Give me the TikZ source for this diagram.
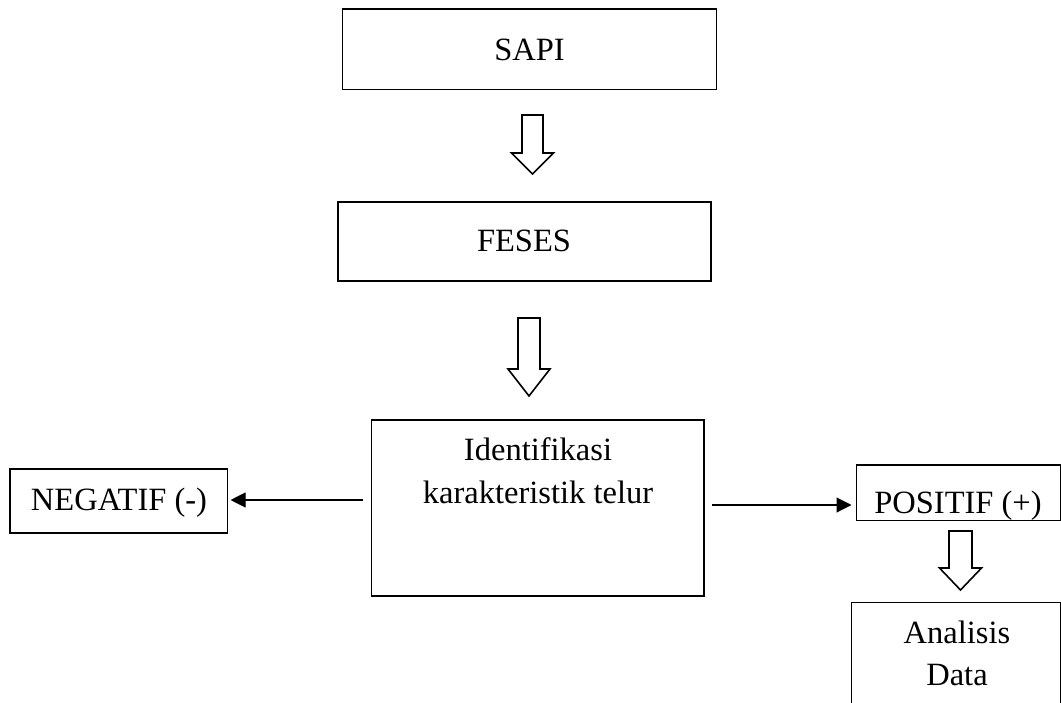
\documentclass[tikz,border=0pt]{standalone}
\usepackage{fontspec}
\setmainfont{Liberation Serif}
\usetikzlibrary{arrows.meta}
\tikzset{
  box/.style={draw=black, line width=1.1pt, rectangle, inner sep=0pt, minimum width=#1},
  lbl/.style={anchor=base, inner sep=0pt, font=\fontsize{32.5}{43}\selectfont},
  conn/.style={draw=black, line width=1.1pt, -{Triangle[length=15pt,width=15pt]}},
  blockarrow/.style={draw=black, line width=1.6pt, line join=miter, fill=white},
}
\newcommand{\downblock}[5]{% cx, top, headtop, tip, shaft half width
  \draw[blockarrow] (#1-#5,#2) -- (#1+#5,#2) -- (#1+#5,#3) -- (#1+21,#3) -- (#1,#4)
    -- (#1-21,#3) -- (#1-#5,#3) -- cycle;}
\begin{document}
\begin{tikzpicture}[x=1pt,y=-1pt]
\clip (0,0) rectangle (1061,702);
\fill[white] (0,0) rectangle (1061,702);

% boxes
\node[box=374pt, minimum height=80.5pt] (sapi) at (529.5,49.25) {};
\node[box=373pt, minimum height=79pt] (feses) at (524.5,241.5) {};
\node[box=332.5pt, minimum height=176pt] (ident) at (537.75,508) {};
\node[box=217.5pt, minimum height=64pt] (neg) at (118.75,501) {};
\node[box=204.3pt, minimum height=55.7pt] (pos) at (958.2,492.85) {};
\node[box=208.8pt, minimum height=130pt] (ana) at (955.9,667.7) {};

% texts
\node[lbl] (tsapi) at (529.5,60) {SAPI};
\node[lbl] (tfeses) at (524,251) {FESES};
\node[lbl] (tident1) at (538,460) {Identifikasi};
\node[lbl] (tident2) at (538,503) {karakteristik telur};
\node[lbl] (tneg) at (119,510) {NEGATIF (-)};
\node[lbl] (tpos) at (958,513) {POSITIF (+)};
\node[lbl] (tana1) at (957,643) {Analisis};
\node[lbl] (tana2) at (957,685) {Data};

% block arrows
\downblock{532.5}{115}{153}{174}{10.5}
\downblock{529}{318}{369}{396}{11}
\downblock{960.5}{531}{568}{590}{11.5}

% connectors
\coordinate (nl) at (363,500);
\coordinate (nr) at (712,505);
\draw[conn, shorten >=2.5pt] (nl) -- (neg.east |- nl);
\draw[conn, shorten >=4pt] (nr) -- (pos.west |- nr);
\end{tikzpicture}
\end{document}
